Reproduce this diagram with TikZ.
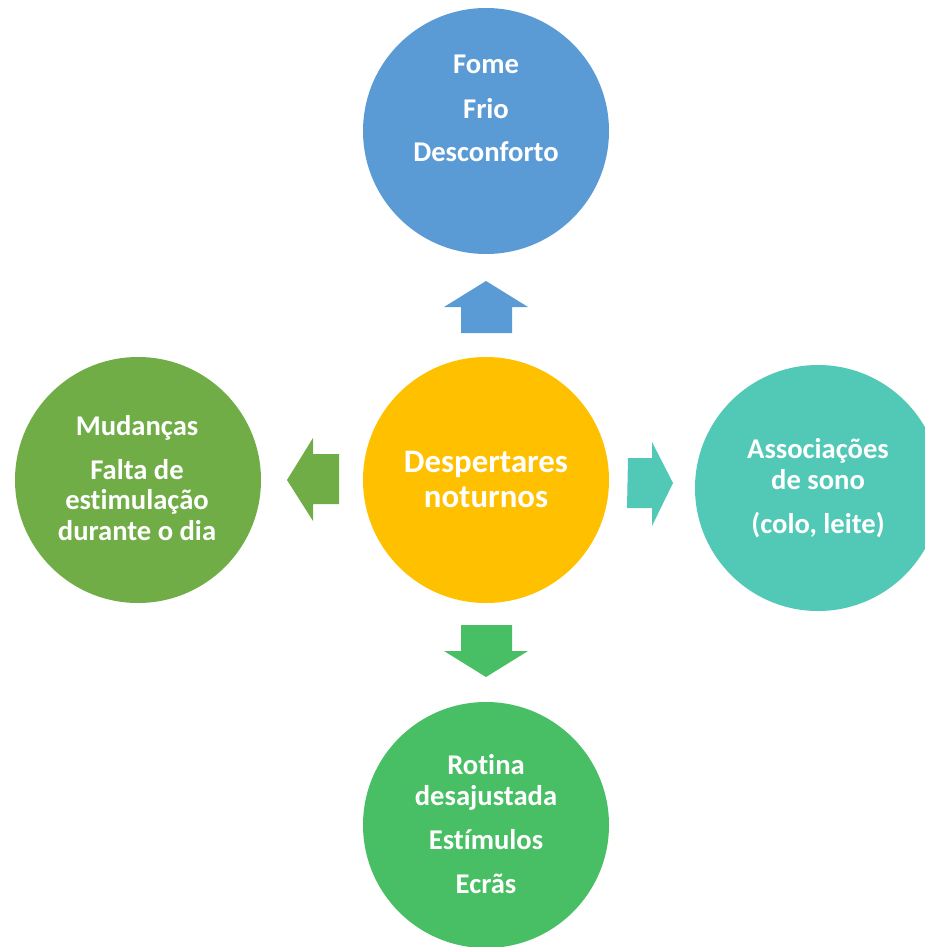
\documentclass[tikz,border=0pt]{standalone}
\usepackage{fontspec}
\setmainfont{Carlito}[Ligatures={NoCommon,NoRare}]
\definecolor{cblue}{HTML}{5B9BD5}
\definecolor{corange}{HTML}{FFC000}
\definecolor{cteal}{HTML}{52C9B6}
\definecolor{cgreenL}{HTML}{70AD47}
\definecolor{cgreenB}{HTML}{48BF64}
\tikzset{
  bub/.style={circle,minimum size=246pt,inner sep=0pt,draw=none},
  txt/.style={text=white,font=\bfseries\fontsize{28.6}{31}\selectfont,anchor=base,inner sep=0pt},
  bigtxt/.style={text=white,font=\bfseries\fontsize{32.8}{35}\selectfont,anchor=base,inner sep=0pt},
  blk/.style={draw=none}
}
\begin{document}
\begin{tikzpicture}[x=1pt,y=-1pt]
\useasboundingbox (0,0) rectangle (925,947);
\begin{scope}
\clip (0,0) rectangle (925,947);
\node[bub,fill=cblue] (top) at (486,131) {};
\node[bub,fill=corange] (mid) at (486,480) {};
\node[bub,fill=cgreenL] (left) at (138,480) {};
\node[bub,fill=cteal] (right) at (818,488) {};
\node[bub,fill=cgreenB] (bot) at (486,825) {};
\end{scope}
% arrows
\fill[cblue] (461,333) -- (461,307) -- (444,307) -- (486,281) -- (528,307) -- (512,307) -- (512,333) -- cycle;
\fill[cgreenB] (461,625) -- (461,651) -- (444,651) -- (486,677) -- (528,651) -- (512,651) -- (512,625) -- cycle;
\fill[cgreenL] (339,454) -- (313,454) -- (313,438) -- (287,480) -- (313,521) -- (313,504) -- (339,504) -- cycle;
\fill[cteal] (628,458) -- (652,458) -- (652,442) -- (673,483) -- (652,526) -- (652,508) -- (627,508) -- cycle;
% texts
\node[txt] (t1) at (486,74) {Fome};
\node[txt] (t2) at (486,118) {Frio};
\node[txt] (t3) at (486,161) {Desconforto};
\node[bigtxt] (m1) at (486,472) {Despertares};
\node[bigtxt] (m2) at (486,507) {noturnos};
\node[txt] (l1) at (137,435) {Mudanças};
\node[txt] (l2) at (137,479) {Falta de};
\node[txt] (l3) at (137,509) {estimulação};
\node[txt] (l4) at (137,540) {durante o dia};
\node[txt] (r1) at (818,458) {Associações};
\node[txt] (r2) at (818,489) {de sono};
\node[txt] (r3) at (818,533) {(colo, leite)};
\node[txt] (b1) at (486,774) {Rotina};
\node[txt] (b2) at (486,805) {desajustada};
\node[txt] (b3) at (486,849) {Estímulos};
\node[txt] (b4) at (486,893) {Ecrãs};
\end{tikzpicture}
\end{document}
